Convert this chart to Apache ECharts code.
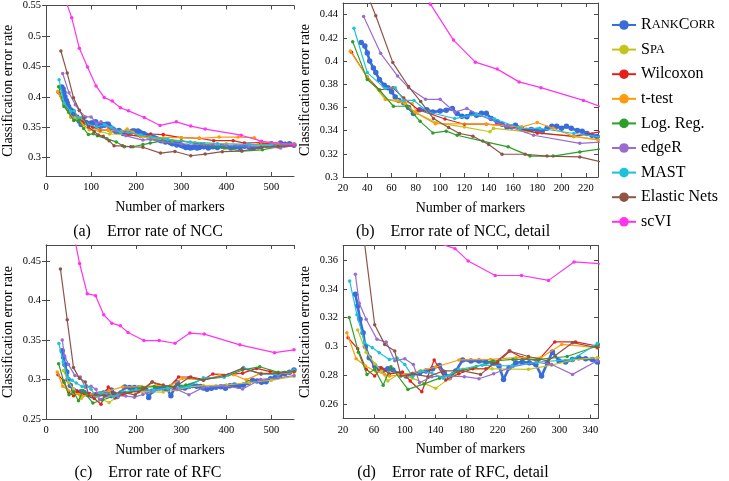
<!DOCTYPE html>
<html><head><meta charset="utf-8">
<script src="https://cdn.jsdelivr.net/npm/echarts@6/dist/echarts.min.js"></script>
<style>html,body{margin:0;padding:0;background:#fff}#c{width:729px;height:481px}</style>
</head><body><div id="c"></div><script>
const methods = ['RankCorr','Spa','Wilcoxon','t-test','Log. Reg.','edgeR','MAST','Elastic Nets','scVI'];
const colors = ['#3a6cd9','#c4c41e','#e3201c','#ff9a0a','#2aa02a','#9b6ccf','#1cc3d8','#8f5446','#ff33f0'];

// ---- NCC error rates: [number of markers, error rate] ----
const nccRankCorr = [[35,0.416],[38,0.413],[40,0.407],[42,0.400],[45,0.394],[47,0.390],[50,0.384],[54,0.379],[57,0.377],[60,0.3735],[63,0.369],[66,0.366],[70,0.364],[74,0.360],[78,0.3547],[83,0.358],[89,0.358],[94,0.356],[100,0.357],[105,0.3576],[110,0.359],[114,0.3548],[118,0.3524],[122,0.352],[126,0.3547],[130,0.3533],[134,0.355],[138,0.355],[142,0.3504],[147,0.3476],[151,0.3455],[155,0.343],[159,0.343],[162,0.3447],[167,0.342],[171,0.340],[175,0.341],[180,0.3403],[184,0.339],[188,0.342],[192,0.3438],[196,0.3438],[200,0.342],[204,0.3438],[208,0.342],[213,0.340],[217,0.3395],[221,0.3375],[225,0.336],[229,0.335],[235,0.334],[240,0.333],[245,0.331],[250,0.330],[255,0.328],[260,0.329],[265,0.326],[270,0.327],[275,0.325],[280,0.323],[285,0.324],[290,0.321],[295,0.322],[300,0.320],[305,0.319],[310,0.317],[315,0.318],[320,0.316],[325,0.317],[330,0.318],[335,0.316],[340,0.317],[345,0.319],[350,0.318],[360,0.316],[370,0.318],[380,0.317],[390,0.319],[400,0.318],[410,0.316],[420,0.318],[430,0.317],[440,0.319],[450,0.318],[460,0.316],[470,0.318],[480,0.321],[490,0.320],[500,0.323],[510,0.321],[520,0.324],[530,0.322],[540,0.323],[550,0.321]];
const nccSpa = [[40,0.3865],[55,0.367],[65,0.366],[77,0.3634],[81,0.355],[97,0.3467],[120,0.343],[141,0.339],[144,0.342],[180,0.338],[210,0.335],[232,0.332],[280,0.328],[330,0.325],[400,0.323],[470,0.321],[550,0.319]];
const nccWilcoxon = [[27,0.4075],[40,0.386],[50,0.375],[61,0.377],[70,0.368],[82,0.358],[104,0.350],[120,0.3455],[138,0.3455],[156,0.344],[180,0.338],[210,0.335],[232,0.339],[260,0.338],[300,0.333],[340,0.332],[372,0.328],[415,0.328],[440,0.324],[475,0.325],[505,0.322],[550,0.321]];
const nccTtest = [[26,0.4086],[40,0.386],[55,0.367],[71,0.3634],[79,0.356],[96,0.346],[138,0.3455],[167,0.343],[180,0.347],[193,0.342],[210,0.335],[230,0.332],[260,0.333],[300,0.333],[340,0.332],[384,0.334],[426,0.334],[462,0.333],[477,0.326],[515,0.323],[550,0.322]];
const nccLogReg = [[28,0.4167],[40,0.384],[50,0.375],[61.5,0.361],[72.5,0.361],[83.5,0.348],[94,0.338],[105,0.3395],[114,0.336],[135,0.331],[156,0.326],[174,0.318],[193,0.318],[215,0.3216],[231,0.324],[258,0.3277],[300,0.3277],[345,0.322],[395,0.316],[435,0.311],[480,0.313],[515,0.318],[550,0.319]];
const nccEdgeR = [[37,0.4383],[51,0.4066],[65,0.387],[74,0.377],[88,0.367],[100,0.367],[112,0.356],[122,0.359],[133,0.353],[155,0.344],[177,0.336],[215,0.329],[232,0.330],[260,0.326],[300,0.323],[350,0.322],[400,0.320],[450,0.319],[520,0.316],[550,0.320]];
const nccMAST = [[29,0.4282],[40,0.39],[54.6,0.3764],[63,0.377],[70,0.366],[78.5,0.366],[90,0.356],[112,0.3504],[130,0.354],[145,0.35],[166,0.342],[182,0.342],[210,0.3375],[232,0.3346],[270,0.330],[320,0.326],[380,0.323],[450,0.322],[500,0.321],[550,0.320]];
const nccElastic = [[33,0.4753],[47,0.439],[61,0.3986],[74,0.378],[84,0.365],[94.5,0.3504],[107,0.3427],[116,0.3375],[127,0.3352],[140,0.328],[151,0.3196],[170,0.3196],[188,0.318],[215,0.3173],[254,0.3076],[286,0.3103],[321,0.3033],[353,0.306],[391,0.310],[434,0.311],[477,0.317],[515,0.319],[550,0.320]];
const nccScVI = [[37,0.60],[47,0.551],[57,0.530],[74,0.4797],[92,0.449],[111,0.418],[129,0.399],[147,0.393],[165,0.382],[183,0.377],[218,0.366],[253,0.353],[289,0.359],[321,0.352],[353,0.347],[433,0.337],[478,0.327],[550,0.321]];

// ---- RFC error rates ----
const rfcRankCorr = [[36,0.3362],[39,0.328],[42,0.3188],[46,0.3095],[49,0.300],[54,0.2922],[61,0.2864],[67,0.2845],[72,0.2835],[78,0.2845],[84.5,0.2836],[93,0.281],[101.7,0.2794],[110,0.2806],[119,0.2815],[127.5,0.2829],[136,0.2845],[144.7,0.2868],[151,0.2817],[157.6,0.2783],[166,0.2829],[174.8,0.2906],[185.6,0.2899],[196,0.2899],[205,0.2892],[213.5,0.2887],[222,0.2864],[227.7,0.2771],[235,0.2852],[243.6,0.2887],[252,0.2892],[261,0.2887],[269.5,0.2875],[277,0.2794],[284.5,0.2887],[291,0.2961],[299.6,0.2899],[308,0.2892],[316.8,0.291],[325,0.2922],[334,0.2915],[342.6,0.291],[349,0.2892],[357,0.2875],[367,0.289],[377,0.290],[388,0.2907],[398,0.289],[408,0.292],[418,0.293],[428,0.2915],[438,0.293],[448,0.296],[458,0.299],[468,0.298],[478,0.2965],[488,0.297],[498,0.301],[508,0.3025],[518,0.305],[530,0.3076],[540,0.309],[550,0.312]];
const rfcSpa = [[39,0.3114],[50,0.296],[61,0.288],[70,0.283],[78,0.276],[91,0.2806],[110,0.278],[140,0.2709],[158,0.278],[175,0.2841],[213,0.2845],[260,0.2841],[290,0.287],[317,0.2906],[349,0.2922],[400,0.293],[450,0.296],[500,0.299],[550,0.304]];
const rfcWilcoxon = [[26.5,0.306],[39,0.2984],[50,0.2841],[61,0.2794],[69.5,0.2852],[80,0.281],[97,0.2822],[107,0.276],[122,0.2686],[138,0.2906],[153,0.2767],[170,0.281],[188,0.2845],[205,0.2845],[220,0.289],[236,0.2968],[252,0.2922],[272,0.29],[294,0.3031],[321,0.3031],[349,0.3003],[370,0.3068],[405,0.306],[436,0.308],[467,0.314],[497,0.310],[525,0.308],[550,0.311]];
const rfcTtest = [[25,0.3095],[37,0.2915],[49,0.2864],[62,0.283],[74,0.2806],[80,0.2794],[100,0.2806],[120,0.283],[140,0.2857],[170,0.2906],[211,0.291],[244,0.2922],[276,0.2922],[303,0.3014],[349,0.2991],[385,0.305],[416,0.306],[444,0.2995],[477,0.308],[515,0.307],[550,0.309]];
const rfcLogReg = [[28,0.32],[40,0.296],[51,0.2806],[61,0.2841],[72,0.273],[82,0.2859],[104,0.2702],[125,0.274],[145,0.278],[162,0.2813],[192,0.2859],[214,0.2899],[240,0.291],[274,0.291],[310,0.293],[349,0.3003],[395,0.303],[436,0.312],[474,0.316],[515,0.309],[550,0.311]];
const rfcEdgeR = [[36,0.350],[41,0.33],[50,0.3188],[64,0.3049],[76,0.303],[87,0.29],[100,0.2915],[111,0.2875],[119,0.2748],[135,0.279],[158,0.2794],[177,0.279],[196,0.2776],[215,0.281],[240,0.286],[270,0.289],[290,0.2875],[317,0.2806],[349,0.29],[395,0.292],[436,0.288],[476,0.30],[515,0.302],[550,0.305]];
const rfcMAST = [[28.6,0.3454],[38,0.322],[48,0.3026],[58,0.299],[67,0.2956],[80,0.291],[90,0.292],[100,0.2875],[110,0.279],[121,0.2829],[135,0.2815],[150,0.278],[170,0.284],[200,0.287],[239,0.2864],[270,0.289],[317,0.291],[349,0.302],[395,0.303],[438,0.315],[477,0.307],[515,0.306],[550,0.312]];
const rfcElastic = [[32,0.4398],[47,0.3754],[61,0.315],[74,0.3014],[87,0.2968],[95,0.2794],[110,0.281],[130,0.279],[150,0.283],[175,0.283],[198,0.2806],[215,0.288],[235,0.2968],[260,0.293],[285,0.2899],[317,0.3026],[349,0.2991],[395,0.305],[436,0.314],[477,0.307],[515,0.308],[550,0.31]];
const rfcScVI = [[37,0.60],[55,0.52],[66,0.4708],[74.5,0.4466],[91.5,0.4085],[110,0.4059],[128,0.3818],[146,0.3712],[165,0.3678],[182,0.3593],[217,0.3492],[251,0.3492],[286,0.3458],[319,0.3586],[351,0.3574],[430,0.3438],[507,0.3339],[550,0.3375]];

// ---- axes / ticks ----
const yTicksA = [0.3,0.35,0.4,0.45,0.5,0.55];
const yTicksB = [0.3,0.32,0.34,0.36,0.38,0.4,0.42,0.44];
const yTicksC = [0.25,0.3,0.35,0.4,0.45];
const yTicksD = [0.26,0.28,0.3,0.32,0.34,0.36];
const captions = ['(a)\u2003Error rate of NCC','(b)\u2003Error rate of NCC, detail','(c)\u2003Error rate of RFC','(d)\u2003Error rate of RFC, detail'];

const nccData = [nccRankCorr,nccSpa,nccWilcoxon,nccTtest,nccLogReg,nccEdgeR,nccMAST,nccElastic,nccScVI];
const rfcData = [rfcRankCorr,rfcSpa,rfcWilcoxon,rfcTtest,rfcLogReg,rfcEdgeR,rfcMAST,rfcElastic,rfcScVI];

const FONT = 'Liberation Serif';
const AX = '#4a4a4a';
const panels = [
  {grid:{left:39,top:3,width:255,height:173}, x:[0,550,100], y:[0.27,0.55], yt:yTicksA, data:nccData, cap:[148,232]},
  {grid:{left:343,top:3,width:255,height:174}, x:[20,230,20], y:[0.3,0.45], yt:yTicksB, data:nccData, cap:[453,232]},
  {grid:{left:39,top:245,width:255,height:174}, x:[0,550,100], y:[0.25,0.47], yt:yTicksC, data:rfcData, cap:[148,473]},
  {grid:{left:343,top:245.5,width:255,height:173}, x:[20,350,40], y:[0.25,0.37], yt:yTicksD, data:rfcData, cap:[453,473]}
];

const grids=[], xAxes=[], yAxes=[], series=[], graphics=[];
panels.forEach((p,i)=>{
  grids.push(p.grid);
  const common = {axisLine:{show:true,lineStyle:{color:AX,width:1}}, axisTick:{show:true,inside:true,length:4,lineStyle:{color:AX}}, splitLine:{show:false}};
  xAxes.push(Object.assign({}, common, {type:'value',gridIndex:i,min:p.x[0],max:p.x[1],interval:p.x[2],position:'bottom',
    axisLabel:{color:'#000',fontFamily:FONT,fontSize:10.5,margin:6,showMaxLabel:false},
    name:'Number of markers',nameLocation:'middle',nameGap:24,nameTextStyle:{color:'#000',fontFamily:FONT,fontSize:14}}));
  xAxes.push(Object.assign({}, common, {type:'value',gridIndex:i,min:p.x[0],max:p.x[1],interval:p.x[2],position:'top',axisLabel:{show:false}}));
  yAxes.push(Object.assign({}, common, {type:'value',gridIndex:i,min:p.y[0],max:p.y[1],position:'left',
    axisTick:{show:true,inside:true,length:4,lineStyle:{color:AX},customValues:p.yt},
    axisLabel:{color:'#000',fontFamily:FONT,fontSize:10.5,margin:5,customValues:p.yt},
    name:'Classification error rate',nameLocation:'middle',nameGap:31,nameRotate:90,nameTextStyle:{color:'#000',fontFamily:FONT,fontSize:14}}));
  yAxes.push(Object.assign({}, common, {type:'value',gridIndex:i,min:p.y[0],max:p.y[1],position:'right',
    axisTick:{show:true,inside:true,length:4,lineStyle:{color:AX},customValues:p.yt},
    axisLabel:{show:false,customValues:p.yt}}));
  methods.forEach((m,k)=>{
    const rc = k===0;
    series.push({type:'line',name:m,xAxisIndex:2*i,yAxisIndex:2*i,data:p.data[k],
      symbol:'circle',symbolSize:rc?5.5:3.5,showSymbol:true,clip:true,
      lineStyle:{color:colors[k],width:rc?2.6:1.2},itemStyle:{color:colors[k]},
      animation:false,z:2+k});
  });
  graphics.push({type:'text',x:p.cap[0],y:p.cap[1],style:{text:captions[i],fill:'#000',font:'16px "'+FONT+'"',textAlign:'center',textVerticalAlign:'middle'}});
});

const chart = echarts.init(document.getElementById('c'),null,{renderer:'canvas'});
chart.setOption({
  animation:false,
  backgroundColor:'#fff',
  grid:grids, xAxis:xAxes, yAxis:yAxes, series:series, graphic:graphics,
  legend:{data:methods,orient:'vertical',left:606,top:12,itemWidth:24,itemHeight:12,itemGap:8.6,
    lineStyle:{width:2},
    textStyle:{color:'#000',fontFamily:FONT,fontSize:16,lineHeight:16,
      rich:{b:{fontFamily:FONT,fontSize:16,color:'#000'},s:{fontFamily:FONT,fontSize:12.5,color:'#000'}}},
    formatter:function(n){ if(n==='RankCorr') return '{b|R}{s|ANK}{b|C}{s|ORR}'; if(n==='Spa') return '{b|S}{s|PA}'; return n; }
  }
});
</script></body></html>
